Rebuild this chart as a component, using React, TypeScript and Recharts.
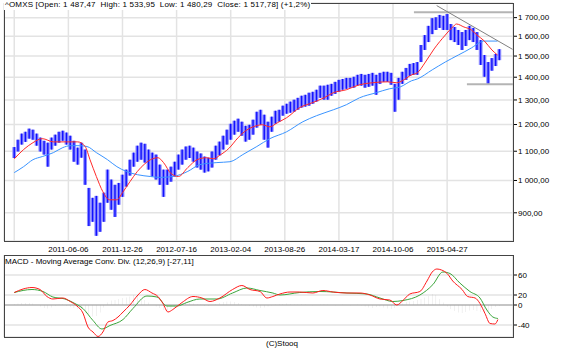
import React from 'react';
import { ComposedChart, Bar, Line, XAxis, YAxis, CartesianGrid, ReferenceLine } from 'recharts';

// x axis is measured in weeks since 2010-11-15, one price bar every 2 weeks
const tickWeeks = [0, 29, 58, 87, 116, 145, 174, 203, 232];
const tickDates = ['', '2011-06-06', '2011-12-26', '2012-07-16', '2013-02-04', '2013-08-26', '2014-03-17', '2014-10-06', '2015-04-27'];
const priceTicks = [900, 1000, 1100, 1200, 1300, 1400, 1500, 1600, 1700];
const macdTicks = [60, 20, 0, -40];

const priceHigh = [
  1115, 1142, 1165, 1172, 1184, 1180, 1165, 1150, 1138, 1131,
  1150, 1161, 1172, 1176, 1169, 1157, 1138, 1113, 1131, 1106,
  976, 945, 951, 930, 961, 1036, 1003, 986, 992, 1019,
  1036, 1070, 1095, 1120, 1131, 1127, 1106, 1095, 1088, 1053,
  1036, 1036, 1046, 1063, 1088, 1106, 1117, 1120, 1113, 1099,
  1092, 1081, 1077, 1099, 1120, 1135, 1157, 1180, 1203, 1215,
  1223, 1211, 1195, 1199, 1219, 1251, 1259, 1239, 1211, 1231,
  1255, 1259, 1276, 1284, 1293, 1301, 1309, 1318, 1322, 1331,
  1335, 1344, 1362, 1362, 1366, 1370, 1379, 1388, 1392, 1397,
  1397, 1402, 1411, 1415, 1411, 1415, 1420, 1411, 1420, 1425,
  1425, 1420, 1370, 1397, 1425, 1443, 1462, 1466, 1471, 1555,
  1606, 1655, 1697, 1702, 1715, 1710, 1720, 1665, 1649, 1633,
  1622, 1633, 1655, 1644, 1622, 1580, 1505, 1471, 1490, 1510,
  1534,
];
const priceLow = [
  1076, 1099, 1124, 1134, 1146, 1142, 1120, 1099, 1088, 1046,
  1106, 1120, 1131, 1138, 1124, 1106, 1063, 1053, 1077, 986,
  862, 874, 835, 846, 874, 930, 909, 888, 924, 948,
  980, 1016, 1046, 1063, 1070, 1060, 1036, 1013, 1003, 986,
  948, 986, 996, 1013, 1036, 1053, 1070, 1076, 1063, 1043,
  1036, 1026, 1030, 1043, 1070, 1085, 1106, 1124, 1142, 1161,
  1172, 1157, 1135, 1142, 1161, 1188, 1199, 1142, 1113, 1172,
  1203, 1211, 1235, 1243, 1247, 1251, 1259, 1268, 1272, 1276,
  1284, 1293, 1309, 1301, 1301, 1318, 1326, 1335, 1344, 1348,
  1353, 1353, 1362, 1362, 1353, 1357, 1362, 1322, 1370, 1379,
  1379, 1366, 1251, 1301, 1370, 1388, 1406, 1411, 1411, 1471,
  1530, 1570, 1611, 1633, 1644, 1633, 1633, 1580, 1570, 1555,
  1530, 1550, 1580, 1570, 1530, 1457, 1402, 1370, 1430, 1452,
  1480,
];

// moving averages (red = short, blue = long)
const fastMaWeeks = [0, 5, 10, 15, 21, 28, 34, 38, 40.6, 44, 47.5, 51, 55, 58, 62, 66, 70, 74, 77, 80, 84, 88, 93, 98, 103, 107, 110, 115, 120, 124, 128, 133, 137, 141, 146, 153, 160, 166, 171, 178, 185, 192, 200, 205, 208, 213, 216, 220, 225, 231, 235, 237, 241, 245, 248, 252, 256, 259];
const fastMa = [1073, 1106, 1131, 1146, 1134, 1134, 1134, 1117, 1070, 1013, 964, 939, 939, 961, 996, 1030, 1056, 1073, 1077, 1060, 1023, 1013, 1043, 1070, 1077, 1073, 1085, 1110, 1150, 1176, 1191, 1199, 1191, 1207, 1227, 1268, 1289, 1309, 1331, 1344, 1366, 1375, 1379, 1375, 1384, 1411, 1420, 1466, 1535, 1606, 1649, 1665, 1649, 1633, 1606, 1575, 1530, 1505];
const slowMaWeeks = [0, 5, 10, 15, 21, 26, 30, 35, 39, 44, 50, 55, 60, 66, 73, 78, 85, 93, 99.5, 108.6, 115.6, 122.5, 130, 137, 146, 154.7, 162, 171, 178, 185, 194, 201, 207, 213, 216, 224, 231, 238, 245, 250, 251.5, 259];
const slowMa = [1026, 1046, 1070, 1081, 1095, 1113, 1120, 1120, 1117, 1095, 1070, 1046, 1030, 1019, 1013, 1010, 1013, 1030, 1053, 1060, 1063, 1088, 1117, 1146, 1172, 1211, 1235, 1259, 1280, 1309, 1331, 1348, 1357, 1384, 1392, 1434, 1471, 1505, 1540, 1570, 1575, 1575];

// MACD (12,26,9)
const macdWeeks = [0, 4.7, 9.5, 13.8, 17.5, 20.7, 26, 30, 33.6, 36.8, 39.5, 42.2, 44.9, 47.5, 50.2, 52.9, 55.6, 58.3, 62, 66.3, 70, 73.8, 77, 79.7, 82.4, 85, 89.9, 95.8, 100.6, 104.9, 110.2, 117, 122, 126.3, 131.7, 135.4, 138.6, 142.4, 147.8, 153, 160, 165.4, 170.8, 178.3, 185.3, 190.6, 196, 201.3, 205, 208.3, 212, 217.4, 221.2, 224, 226.5, 229, 232, 235, 240, 243, 247, 249.6, 252.3, 255, 257.6, 259.2];
const macdLine = [25, 32, 35, 31, 17, 12, 14, 7, -2, -16, -44, -54, -63, -54, -34, -31, -24, -14, 0, 20, 31, 24, 17, 3, -14, -9, 5, 17, 14, 7, 14, 31, 39, 31, 27, 14, 17, 22, 26, 26, 24, 29, 26, 24, 24, 20, 12, 10, 0, 9, 22, 27, 48, 66, 72, 70, 63, 48, 31, 17, 14, 3, -17, -37, -38, -29];
const signalWeeks = [0, 9.5, 15.4, 20.7, 27.2, 32.5, 36.8, 42.2, 47, 51.3, 58.3, 63.6, 71.1, 76.5, 81.8, 87.2, 92.5, 99.5, 108.6, 117, 124.7, 131.7, 138.6, 142.4, 153, 163.8, 178.3, 189, 196, 202.9, 208.3, 217.4, 224.4, 229.7, 233.5, 238.8, 244.2, 249.6, 253.3, 256.5, 259.2];
const signalLine = [25, 31, 27, 16, 12, 3, -7, -31, -48, -41, -29, -7, 18, 16, -2, -2, 5, 12, 12, 24, 34, 29, 24, 20, 25, 27, 24, 22, 14, 7, 9, 20, 41, 66, 63, 44, 27, 14, -10, -24, -27];
const histogram = [
  2, 3, 4, 4, 4, 3, 0, -3, -6, -7,
  -5, -2, 1, 2, -2, -4, -6, -8, -10, -16,
  -20, -23, -22, -15, -5, 5, 9, 10, 12, 14,
  15, 17, 20, 18, 14, 10, 5, 0, -3, -6,
  -10, -11, -8, -3, 2, 4, 5, 5, 3, 2,
  1, -2, -2, 0, 2, 4, 6, 7, 7, 6,
  4, 2, -1, -2, -3, -5, -6, -5, -3, -1,
  1, 2, 2, 3, 2, 1, 1, 2, 1, 0,
  -1, 0, 1, 2, 1, 0, -1, 0, 1, 0,
  -1, 0, 1, -1, -3, -5, -6, -4, -3, -5,
  -7, -8, -6, 0, 3, 6, 7, 8, 10, 12,
  15, 18, 22, 20, 12, 5, -3, -8, -12, -15,
  -16, -14, -11, -10, -12, -14, -14, -12, -8, -4,
  -2,
];

const priceData = priceHigh.map((hi, i) => ({ w: i * 2, hi, lo: priceLow[i] }));
const histData = histogram.map((h, i) => ({ w: i * 2, h }));
const fastData = fastMaWeeks.map((w, i) => ({ w, v: fastMa[i] }));
const slowData = slowMaWeeks.map((w, i) => ({ w, v: slowMa[i] }));
const macdData = macdWeeks.map((w, i) => ({ w, v: macdLine[i] }));
const signalData = signalWeeks.map((w, i) => ({ w, v: signalLine[i] }));

const X_DOMAIN: [number, number] = [-5.5, 267.3];
const FONT = '"Liberation Sans", Arial, sans-serif';

// "1 700,00" with a non-breaking space so recharts keeps it on one line
const fmtPrice = (v: number) => {
  const [int, dec] = v.toFixed(2).split('.');
  return int.replace(/\B(?=(\d{3})+(?!\d))/g, '\u00a0') + ',' + dec;
};

// price bar: light halo with thin bright core
const PriceBar = (props: any) => {
  const { x, y, width, height } = props;
  if (y == null || isNaN(y)) return null;
  const cx = x + width / 2;
  const h = Math.max(height, 1);
  return (
    <g>
      <rect x={cx - 1.9} y={y} width={3.8} height={h} fill="#8c8cff" />
      <rect x={cx - 0.7} y={y} width={1.4} height={h} fill="#1010ff" />
    </g>
  );
};

export default function App() {
  return (
    <div style={{ position: 'absolute', left: 0, top: 0, width: 561, height: 351, background: '#fff', fontFamily: FONT }}>
      <div style={{ position: 'absolute', left: 0, top: 0 }}>
        <ComposedChart width={561} height={253} data={priceData} margin={{ top: 3, right: 0, bottom: 0, left: 4 }}>
          <CartesianGrid stroke="#e3e3e3" strokeWidth={1.5} />
          <XAxis
            type="number"
            dataKey="w"
            domain={X_DOMAIN}
            allowDataOverflow
            ticks={tickWeeks}
            interval={0}
            height={12}
            axisLine={false}
            tickLine={false}
            tickSize={3}
            tickMargin={2}
            tick={{ fontSize: 8, fill: '#000', fontFamily: FONT }}
            tickFormatter={(v) => tickDates[tickWeeks.indexOf(v)] ?? ''}
          />
          <YAxis
            orientation="right"
            scale="log"
            domain={[821, 1783]}
            allowDataOverflow
            ticks={priceTicks}
            interval={0}
            width={48}
            axisLine={false}
            tickLine={{ stroke: '#000' }}
            tickSize={4}
            tickMargin={1}
            tick={{ fontSize: 8, fill: '#000', fontFamily: FONT, textAnchor: 'start' }}
            tickFormatter={fmtPrice}
          />
          <Bar dataKey={(d: any) => [d.lo, d.hi]} barSize={4} shape={PriceBar} isAnimationActive={false} />
          <Line data={slowData} dataKey="v" type="monotone" stroke="#3a94ff" strokeWidth={1} dot={false} isAnimationActive={false} />
          <Line data={fastData} dataKey="v" type="monotone" stroke="#ff2a2a" strokeWidth={1} dot={false} isAnimationActive={false} />
          <ReferenceLine segment={[{ x: 214.2, y: 1730 }, { x: 267.3, y: 1730 }]} stroke="#b4b4b4" strokeWidth={2} />
          <ReferenceLine segment={[{ x: 242.6, y: 1368 }, { x: 267.3, y: 1368 }]} stroke="#b4b4b4" strokeWidth={2} />
          <ReferenceLine segment={[{ x: 226.4, y: 1768 }, { x: 267.1, y: 1533 }]} stroke="#808080" strokeWidth={1} />
        </ComposedChart>
      </div>

      <div style={{ position: 'absolute', left: 0, top: 255 }}>
        <ComposedChart width={561} height={82} data={histData} margin={{ top: 0, right: 0, bottom: 0, left: 4 }}>
          <CartesianGrid stroke="#e3e3e3" strokeWidth={1.5} />
          <XAxis type="number" dataKey="w" domain={X_DOMAIN} allowDataOverflow ticks={tickWeeks} interval={0} height={0} tick={false} axisLine={false} tickLine={false} />
          <YAxis
            orientation="right"
            domain={[-64, 100]}
            allowDataOverflow
            ticks={macdTicks}
            interval={0}
            width={48}
            axisLine={false}
            tickLine={{ stroke: '#000' }}
            tickSize={4}
            tickMargin={1}
            tick={{ fontSize: 8, fill: '#000', fontFamily: FONT, textAnchor: 'start' }}
          />
          <ReferenceLine y={0} stroke="#a0a0a0" />
          <Bar dataKey="h" barSize={1.5} fill="#aaaaaa" isAnimationActive={false} />
          <Line data={signalData} dataKey="v" type="monotone" stroke="#3aa53a" strokeWidth={1} dot={false} isAnimationActive={false} />
          <Line data={macdData} dataKey="v" type="monotone" stroke="#ff1a1a" strokeWidth={1} dot={false} isAnimationActive={false} />
        </ComposedChart>
      </div>

      {/* panel frames */}
      <div style={{ position: 'absolute', left: 4, top: 3, width: 510, height: 239, border: '1px solid #444', boxSizing: 'border-box', pointerEvents: 'none' }} />
      <div style={{ position: 'absolute', left: 4, top: 255, width: 510, height: 83, border: '1px solid #444', boxSizing: 'border-box', pointerEvents: 'none' }} />

      <div style={{ position: 'absolute', left: 4, top: 0, background: '#fff', fontSize: 8, letterSpacing: 0.18, lineHeight: '10px', padding: '0 1px', whiteSpace: 'pre', color: '#000' }}>
        {'^OMXS [Open: 1 487,47  High: 1 533,95  Low: 1 480,29  Close: 1 517,78] (+1,2%)'}
      </div>
      <div style={{ position: 'absolute', left: 5, top: 257, fontSize: 8, lineHeight: '10px', whiteSpace: 'pre', color: '#000' }}>
        {'MACD - Moving Average Conv. Div. (12,26,9) [-27,11]'}
      </div>
      <div style={{ position: 'absolute', left: 266, top: 339, fontSize: 8, lineHeight: '10px', whiteSpace: 'pre', color: '#000' }}>
        (C)Stooq
      </div>
    </div>
  );
}
